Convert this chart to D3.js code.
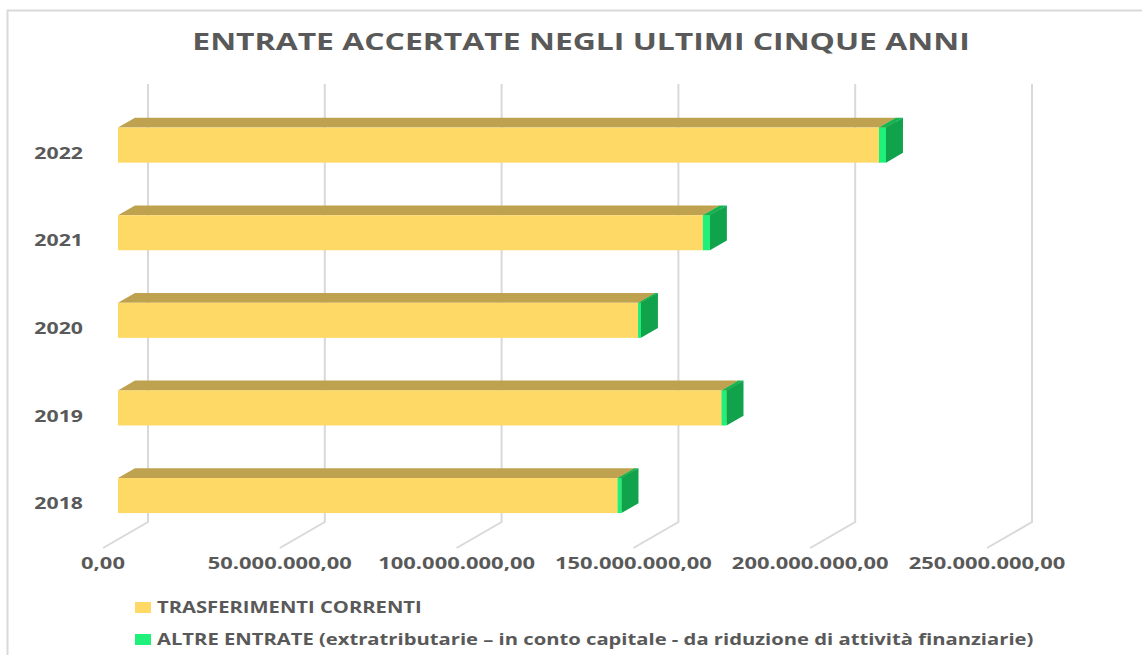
<!DOCTYPE html>
<html>
<head>
<meta charset="utf-8">
<script src="https://cdn.jsdelivr.net/npm/d3@7"></script>
<style>
  body { margin: 0; background: #fff; }
  text { font-family: "Open Sans", sans-serif; font-weight: bold; fill: #595959; }
</style>
</head>
<body>
<script>
const WIDTH = 1142;
const HEIGHT = 655;

// data
const years = ["2018", "2019", "2020", "2021", "2022"];
const trasferimenti = [141.3e6, 170.7e6, 147.1e6, 165.4e6, 215.2e6];
const altreEntrate = [1.1e6, 1.4e6, 0.8e6, 2.0e6, 2.0e6];
const tickValues = [0, 50e6, 100e6, 150e6, 200e6, 250e6];
const seriesNames = [
    "TRASFERIMENTI CORRENTI",
    "ALTRE ENTRATE (extratributarie \u2013 in conto capitale - da riduzione di attivit\u00e0 finanziarie)"
];

const WALL = {LEFT: 148, RIGHT: 1032, TOP: 84, BOTTOM: 522};
const DEPTH = {DX: -45, DY: 26};      // back wall -> front of floor
const BAR_FRONT = 0.667, BAR_BACK = 0.29;
const STRETCH = 1.33;                 // the picture is stretched sideways

const COLORS = {
    yellow: "#FFD966", yellowTop: "#BFA24F", yellowSide: "#C9A94A",
    green: "#1EF07A", greenTop: "#12B556", greenSide: "#11A24C",
    grid: "#D9D9D9"
};

var svg = d3.select("body").append("svg")
    .attr("width", WIDTH)
    .attr("height", HEIGHT);

svg.append("rect")
    .attr("x", 7.5).attr("y", 10.5)
    .attr("width", 1200).attr("height", 700)
    .attr("fill", "#fff")
    .attr("stroke", "#D9D9D9")
    .attr("stroke-width", 2);

var x = d3.scaleLinear()
    .domain([0, 250e6])
    .range([WALL.LEFT, WALL.RIGHT]);

var y = d3.scaleBand()
    .domain(years.slice().reverse())
    .range([WALL.TOP, WALL.BOTTOM]);

var barH = y.bandwidth() * 0.4;

var itFormat = d3.formatLocale({decimal: ",", thousands: ".", grouping: [3], currency: ["", ""]})
    .format(",.2f");

function stretchedText(px, py, str, size, anchor) {
    return svg.append("text")
        .attr("transform", "translate(" + px + "," + py + ") scale(" + STRETCH + ",1)")
        .attr("text-anchor", anchor)
        .style("font-size", size + "px")
        .text(str);
}

// title
stretchedText(WIDTH / 2 + 10, 50, "ENTRATE ACCERTATE NEGLI ULTIMI CINQUE ANNI", 24, "middle");

// gridlines on back wall + floor
svg.append("g").selectAll("path")
    .data(tickValues)
    .join("path")
        .attr("d", function(d) {
            return "M" + x(d) + "," + WALL.TOP + "L" + x(d) + "," + WALL.BOTTOM +
                "L" + (x(d) + DEPTH.DX) + "," + (WALL.BOTTOM + DEPTH.DY);
        })
        .attr("fill", "none")
        .attr("stroke", COLORS.grid)
        .attr("stroke-width", 2);

// x tick labels
tickValues.forEach(function(d) {
    stretchedText(x(d) + DEPTH.DX, 569, itFormat(d), 16.5, "middle");
});

// year labels
years.forEach(function(yr) {
    stretchedText(83, y(yr) + y.bandwidth() / 2 + DEPTH.DY + 5, yr, 16, "end");
});

function poly(points, color) {
    svg.append("path")
        .attr("d", "M" + points.map(function(p) { return p.join(","); }).join("L") + "Z")
        .attr("fill", color);
}

// draws one 3D box from value a to value b
function box(a, b, yr, front, top, side) {
    var fdx = BAR_FRONT * DEPTH.DX, fdy = BAR_FRONT * DEPTH.DY;
    var bdx = BAR_BACK * DEPTH.DX, bdy = BAR_BACK * DEPTH.DY;
    var y0 = y(yr) + (y.bandwidth() - barH) / 2;
    var x0 = x(a), x1 = x(b);
    // top face
    poly([[x0 + fdx, y0 + fdy], [x1 + fdx, y0 + fdy], [x1 + bdx, y0 + bdy], [x0 + bdx, y0 + bdy]], top);
    // right side
    poly([[x1 + fdx, y0 + fdy], [x1 + bdx, y0 + bdy], [x1 + bdx, y0 + bdy + barH], [x1 + fdx, y0 + fdy + barH]], side);
    // front face
    svg.append("rect")
        .attr("x", x0 + fdx).attr("y", y0 + fdy)
        .attr("width", x1 - x0).attr("height", barH)
        .attr("fill", front);
}

years.forEach(function(yr, i) {
    box(0, trasferimenti[i], yr, COLORS.yellow, COLORS.yellowTop, COLORS.yellowSide);
    box(trasferimenti[i], trasferimenti[i] + altreEntrate[i], yr, COLORS.green, COLORS.greenTop, COLORS.greenSide);
});

// legend
var legendColors = [COLORS.yellow, COLORS.green];
seriesNames.forEach(function(name, i) {
    var ly = 602 + i * 32;
    svg.append("rect")
        .attr("x", 135).attr("y", ly)
        .attr("width", 16).attr("height", 11)
        .attr("fill", legendColors[i]);
    stretchedText(157, ly + 11, name, 15.2, "start");
});
</script>
</body>
</html>
